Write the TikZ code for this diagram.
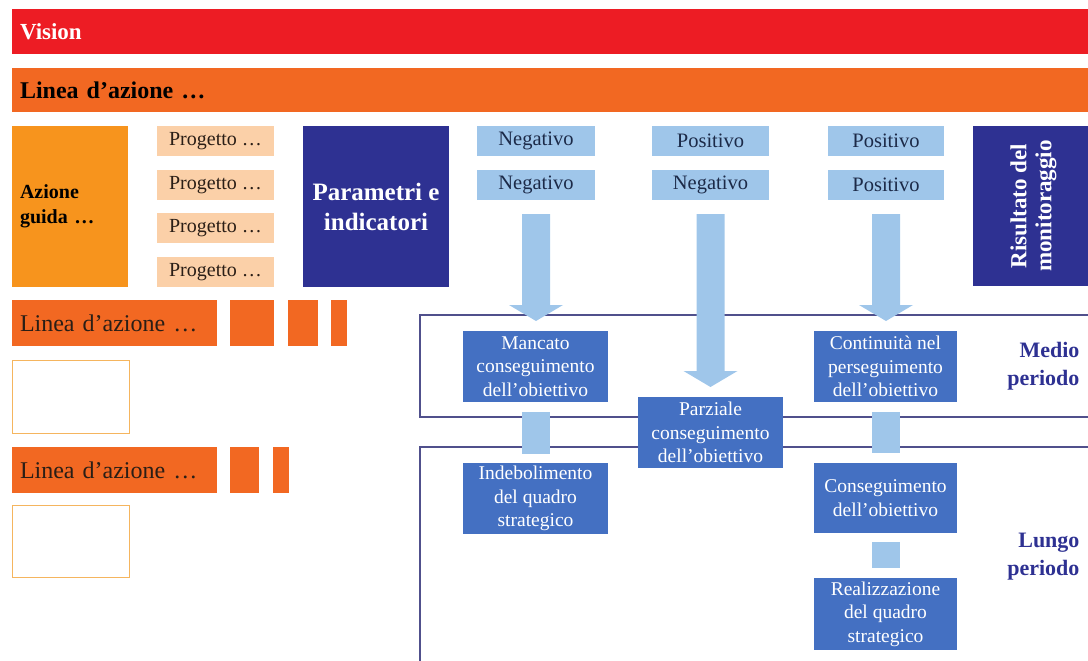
\documentclass[tikz,border=0pt]{standalone}
\usepackage{fontspec}
\setmainfont{Liberation Serif}
\usetikzlibrary{calc}

\definecolor{visred}{HTML}{ED1C24}
\definecolor{lineor}{HTML}{F26822}
\definecolor{guidaor}{HTML}{F7941D}
\definecolor{peach}{HTML}{FBD0A8}
\definecolor{navy}{HTML}{2E3192}
\definecolor{paleblue}{HTML}{9FC6EA}
\definecolor{midblue}{HTML}{4470C2}
\definecolor{frameline}{HTML}{50508C}
\definecolor{emptyor}{HTML}{F5B55E}
\definecolor{darktext}{HTML}{2A1E16}
\definecolor{bluetext}{HTML}{1C2A48}

% block arrow pointing down from one node towards another
\newcommand\blockdown[2]{%
  \fill[paleblue] let \p1=($(#1.south)+(0,14)$), \p2=($(#1.south |- #2.north)+(0,-10)$) in
    (\x1-14pt,\y1) -- (\x1+14pt,\y1) -- (\x1+14pt,\y2+16pt) -- (\x1+27pt,\y2+16pt)
    -- (\x2,\y2) -- (\x1-27pt,\y2+16pt) -- (\x1-14pt,\y2+16pt) -- cycle;}

\begin{document}
\begin{tikzpicture}[x=1pt,y=-1pt,
  rect/.style={rectangle,anchor=north west,inner sep=0pt,outer sep=0pt,align=center},
  bar/.style={rect,inner xsep=8pt,align=left,text width=#1},
  proj/.style={rect,fill=peach,minimum width=117pt,minimum height=30pt,
    text=darktext,font=\fontsize{20}{23}\selectfont},
  verdict/.style={rect,fill=paleblue,minimum height=30pt,
    text=bluetext,font=\fontsize{20.5}{23}\selectfont},
  outcome/.style={rect,fill=midblue,minimum width=145pt,minimum height=71pt,
    text=white,font=\fontsize{19.5}{23.5}\selectfont},
  link/.style={draw=paleblue,line width=28pt},
  sideblock/.style={rect,fill=lineor,minimum height=46pt},
  sideline/.style={bar=189pt,fill=lineor,minimum height=46pt,text=darktext,
    font=\fontsize{24}{27}\selectfont},
  emptybox/.style={rect,draw=emptyor,line width=0.8pt,minimum width=117pt,minimum height=73pt},
  frame/.style={draw=frameline,line width=1.6pt},
  period/.style={anchor=east,align=right,text=navy,
    font=\bfseries\fontsize{22}{28}\selectfont}]
\useasboundingbox (0,0) rectangle (1088,661);

% header bars
\node[bar=1060pt,fill=visred,minimum height=45pt,text=white,
  font=\bfseries\fontsize{23}{26}\selectfont] (vision) at (12,9) {Vision};
\node[bar=1060pt,fill=lineor,minimum height=44pt,text=black,
  font=\bfseries\fontsize{24}{27}\selectfont] (linea) at (12,68) {Linea d’azione …};

% action and projects
\node[bar=100pt,fill=guidaor,minimum height=161pt,text=black,
  font=\bfseries\fontsize{20}{25}\selectfont] (guida) at (12,126) {Azione\\guida …};
\node[proj] (p1) at (157,126) {Progetto …};
\node[proj] (p2) at (157,170) {Progetto …};
\node[proj] (p3) at (157,213) {Progetto …};
\node[proj] (p4) at (157,257) {Progetto …};
\node[rect,fill=navy,minimum width=146pt,minimum height=161pt,text=white,
  font=\bfseries\fontsize{25}{30}\selectfont] (param) at (303,126) {Parametri e\\indicatori};

% parameter verdicts
\node[verdict,minimum width=118pt] (a1) at (477,126) {Negativo};
\node[verdict,minimum width=118pt] (a2) at (477,170) {Negativo};
\node[verdict,minimum width=117pt] (b1) at (652,126) {Positivo};
\node[verdict,minimum width=117pt] (b2) at (652,170) {Negativo};
\node[verdict,minimum width=116pt] (c1) at (828,126) {Positivo};
\node[verdict,minimum width=116pt] (c2) at (828,170) {Positivo};

\node[rect,fill=navy,minimum width=115pt,minimum height=160pt,
  label={[rotate=90,text=white,align=center,yshift=-3pt,
    font=\bfseries\fontsize{23}{25}\selectfont]center:Risultato del\\monitoraggio}] (ris) at (973,126) {};

% further lines of action
\node[sideline] (l2) at (12,300) {Linea d’azione …};
\node[sideblock,minimum width=44pt] (l2a) at (230,300) {};
\node[sideblock,minimum width=30pt] (l2b) at (288,300) {};
\node[sideblock,minimum width=16pt] (l2c) at (331,300) {};
\node[emptybox] (e1) at (12,360) {};
\node[sideline] (l3) at (12,447) {Linea d’azione …};
\node[sideblock,minimum width=29pt] (l3a) at (230,447) {};
\node[sideblock,minimum width=16pt] (l3b) at (273,447) {};
\node[emptybox,minimum height=72pt] (e2) at (12,505) {};

% period frames
\draw[frame] (1088,315) -- (420,315) -- (420,417) -- (1088,417);
\draw[frame] (1088,447) -- (420,447) -- (420,661);
\node[period] (medio) at (1083,366) {Medio\\periodo};
\node[period] (lungo) at (1083,557) {Lungo\\periodo};

% outcomes
\node[outcome] (mancato) at (463,331) {Mancato\\conseguimento\\dell’obiettivo};
\node[outcome] (indeb) at (463,463) {Indebolimento\\del quadro\\strategico};
\node[outcome] (parziale) at (638,397) {Parziale\\conseguimento\\dell’obiettivo};
\node[outcome,minimum width=143pt] (cont) at (814,331) {Continuità nel\\perseguimento\\dell’obiettivo};
\node[outcome,minimum width=143pt,minimum height=70pt] (consegu) at (814,463) {Conseguimento\\dell’obiettivo};
\node[outcome,minimum width=143pt,minimum height=72pt] (realizz) at (814,578) {Realizzazione\\del quadro\\strategico};

% arrows from verdicts to outcomes
\blockdown{a2}{mancato}
\blockdown{b2}{parziale}
\blockdown{c2}{cont}

% links between successive outcomes
\draw[link,shorten <=10pt,shorten >=9pt] (mancato) -- (indeb);
\draw[link,shorten <=10pt,shorten >=10pt] (cont) -- (consegu);
\draw[link,shorten <=9pt,shorten >=10pt] (consegu) -- (realizz);
\end{tikzpicture}
\end{document}
